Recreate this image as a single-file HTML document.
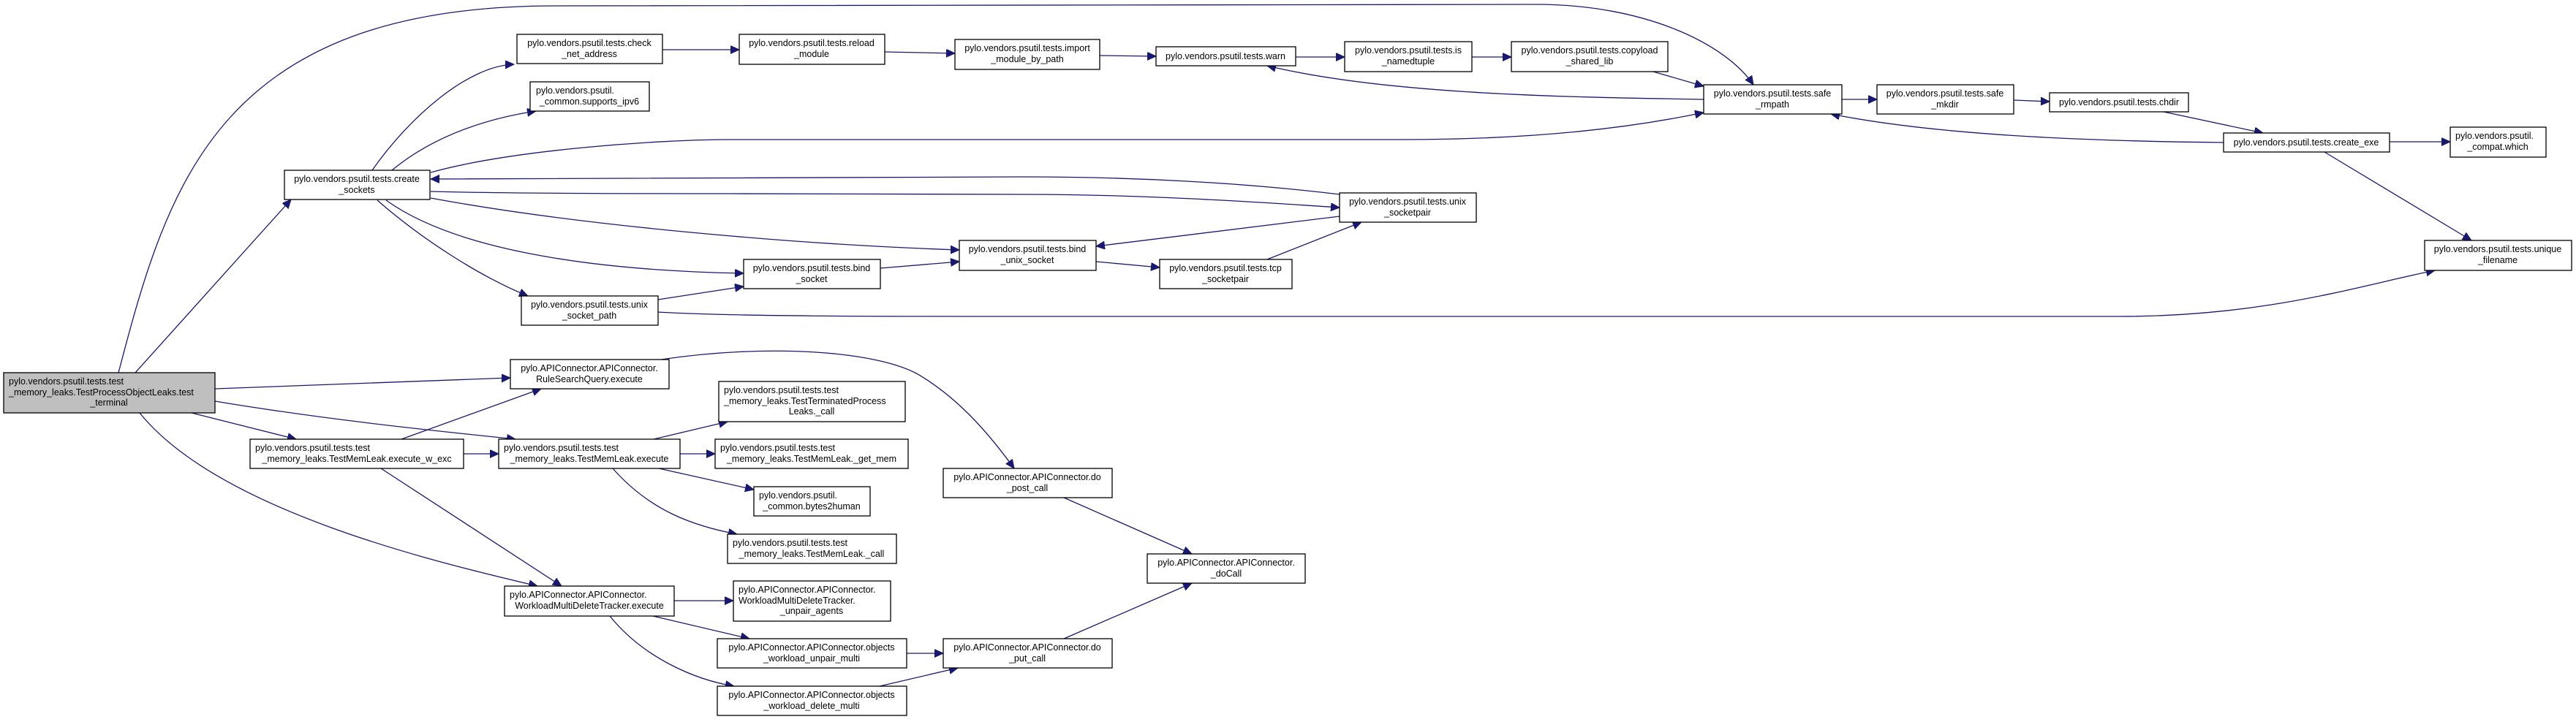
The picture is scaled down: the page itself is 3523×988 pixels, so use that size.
<!DOCTYPE html>
<html><head><meta charset="utf-8"><style>
html,body{margin:0;padding:0;background:#fff;}
svg{display:block;}
text{font-family:"Liberation Sans",sans-serif;font-size:12.5px;fill:#000;}
.e{fill:none;stroke:#191970;stroke-width:1.3;}
.n{fill:#fff;stroke:#000;stroke-width:1.3;}
.sh{fill:none;stroke:#666;stroke-width:1.3;}
</style></head><body>
<svg width="3523" height="988" viewBox="0 0 3523 988" xmlns="http://www.w3.org/2000/svg">
<defs><marker id="a" markerUnits="userSpaceOnUse" markerWidth="14" markerHeight="12" refX="12" refY="5.5" orient="auto"><path d="M0,0 L12,5.5 L0,11 Z" fill="#191970" stroke="#191970"/></marker></defs>

<g marker-end="url(#a)">
<!-- edges -->
<path class="e" d="M162,510 C230,250 300,8 760,8 L2100,6 C2250,6 2360,60 2398,116"/>
<path class="e" d="M185,510 L398,273"/>
<path class="e" d="M509,233 C560,160 640,90 703,88"/>
<path class="e" d="M536,233 C600,180 680,160 733,152"/>
<path class="e" d="M589,236 C700,205 900,191 1000,191 L1915,191 C2100,191 2230,175 2330,154"/>
<path class="e" d="M1832,266 C1700,250 1550,242 1400,242 L589,245"/>
<path class="e" d="M589,262 C700,265 900,265 1000,265 L1400,266 C1550,266 1700,275 1832,284"/>
<path class="e" d="M589,271 C800,310 1100,335 1312,342"/>
<path class="e" d="M528,274 C620,340 800,370 1017,374"/>
<path class="e" d="M516,274 C580,330 660,380 722,405"/>
<path class="e" d="M900,410 L1017,392"/>
<path class="e" d="M900,427 C1000,433 1200,433 1400,433 L2900,433 C3100,433 3230,390 3330,370"/>
<path class="e" d="M1204,367 L1312,358"/>
<path class="e" d="M1832,296 L1499,337"/>
<path class="e" d="M1499,358 L1586,366"/>
<path class="e" d="M1733,355 L1862,304"/>
<path class="e" d="M906,68 L1011,68"/>
<path class="e" d="M1210,71 L1306,73"/>
<path class="e" d="M1504,76 L1581,77"/>
<path class="e" d="M1772,78 L1839,78"/>
<path class="e" d="M2013,78 L2067,78"/>
<path class="e" d="M2261,98 L2330,118"/>
<path class="e" d="M2330,136 C2150,133 1900,130 1733,90"/>
<path class="e" d="M2519,136 L2567,136"/>
<path class="e" d="M2754,137 L2803,139"/>
<path class="e" d="M2959,153 L3095,182"/>
<path class="e" d="M3041,195 C2850,193 2650,185 2504,156"/>
<path class="e" d="M3268,194 L3351,194"/>
<path class="e" d="M3179,208 L3380,329"/>
<path class="e" d="M294,532 L698,517"/>
<path class="e" d="M294,549 C450,575 600,590 705,601"/>
<path class="e" d="M262,565 L405,601"/>
<path class="e" d="M191,565 C300,700 600,770 735,802"/>
<path class="e" d="M549,601 L740,532"/>
<path class="e" d="M634,621 L682,621"/>
<path class="e" d="M521,641 L768,802"/>
<path class="e" d="M904,492 C1050,470 1200,480 1257,513 C1310,545 1350,590 1387,641"/>
<path class="e" d="M894,601 L995,577"/>
<path class="e" d="M930,621 L978,621"/>
<path class="e" d="M901,641 L1031,670"/>
<path class="e" d="M838,641 C890,700 950,720 1008,731"/>
<path class="e" d="M922,822 L1003,822"/>
<path class="e" d="M893,843 L1025,874"/>
<path class="e" d="M834,843 C880,900 950,930 1004,939"/>
<path class="e" d="M1240,894 L1290,894"/>
<path class="e" d="M1203,939 L1310,914"/>
<path class="e" d="M1455,681 L1630,758"/>
<path class="e" d="M1455,874 L1630,798"/>
</g>

<!-- nodes -->
<g>
<rect x="5" y="510" width="289" height="55" fill="#bfbfbf" stroke="#000" stroke-width="1.3"/>
<text x="12" y="526">pylo.vendors.psutil.tests.test</text>
<text x="12" y="541">_memory_leaks.TestProcessObjectLeaks.test</text>
<text x="149" y="555" text-anchor="middle">_terminal</text>

<rect class="n" x="389" y="233" width="199" height="40"/>
<text x="488" y="249" text-anchor="middle">pylo.vendors.psutil.tests.create</text>
<text x="488" y="264" text-anchor="middle">_sockets</text>

<rect class="n" x="707" y="47" width="199" height="40"/>
<text x="806" y="63" text-anchor="middle">pylo.vendors.psutil.tests.check</text>
<text x="806" y="78" text-anchor="middle">_net_address</text>

<rect class="n" x="725" y="112" width="163" height="40"/>
<text x="733" y="128">pylo.vendors.psutil.</text>
<text x="806" y="143" text-anchor="middle">_common.supports_ipv6</text>

<rect class="n" x="1017" y="355" width="187" height="40"/>
<text x="1110" y="371" text-anchor="middle">pylo.vendors.psutil.tests.bind</text>
<text x="1110" y="386" text-anchor="middle">_socket</text>

<rect class="n" x="713" y="405" width="187" height="40"/>
<text x="806" y="421" text-anchor="middle">pylo.vendors.psutil.tests.unix</text>
<text x="806" y="436" text-anchor="middle">_socket_path</text>

<rect class="n" x="1011" y="47" width="199" height="41"/>
<text x="1110" y="63" text-anchor="middle">pylo.vendors.psutil.tests.reload</text>
<text x="1110" y="78" text-anchor="middle">_module</text>

<rect class="n" x="1306" y="54" width="198" height="41"/>
<text x="1405" y="70" text-anchor="middle">pylo.vendors.psutil.tests.import</text>
<text x="1405" y="85" text-anchor="middle">_module_by_path</text>

<rect class="n" x="1581" y="64" width="191" height="26"/>
<text x="1676" y="81" text-anchor="middle">pylo.vendors.psutil.tests.warn</text>

<rect class="n" x="1839" y="57" width="174" height="41"/>
<text x="1926" y="73" text-anchor="middle">pylo.vendors.psutil.tests.is</text>
<text x="1926" y="88" text-anchor="middle">_namedtuple</text>

<rect class="n" x="2067" y="57" width="214" height="41"/>
<text x="2174" y="73" text-anchor="middle">pylo.vendors.psutil.tests.copyload</text>
<text x="2174" y="88" text-anchor="middle">_shared_lib</text>

<rect class="n" x="2330" y="116" width="189" height="40"/>
<text x="2424" y="132" text-anchor="middle">pylo.vendors.psutil.tests.safe</text>
<text x="2424" y="147" text-anchor="middle">_rmpath</text>

<rect class="n" x="2567" y="116" width="187" height="40"/>
<text x="2660" y="132" text-anchor="middle">pylo.vendors.psutil.tests.safe</text>
<text x="2660" y="147" text-anchor="middle">_mkdir</text>

<rect class="n" x="2803" y="127" width="190" height="26"/>
<text x="2898" y="144" text-anchor="middle">pylo.vendors.psutil.tests.chdir</text>

<rect class="n" x="3041" y="182" width="227" height="26"/>
<text x="3154" y="199" text-anchor="middle">pylo.vendors.psutil.tests.create_exe</text>

<rect class="n" x="3351" y="174" width="131" height="41"/>
<text x="3358" y="190">pylo.vendors.psutil.</text>
<text x="3416" y="205" text-anchor="middle">_compat.which</text>

<rect class="n" x="3316" y="329" width="201" height="41"/>
<text x="3416" y="345" text-anchor="middle">pylo.vendors.psutil.tests.unique</text>
<text x="3416" y="360" text-anchor="middle">_filename</text>

<rect class="n" x="1832" y="264" width="187" height="40"/>
<text x="1925" y="280" text-anchor="middle">pylo.vendors.psutil.tests.unix</text>
<text x="1925" y="295" text-anchor="middle">_socketpair</text>

<rect class="n" x="1312" y="329" width="187" height="41"/>
<text x="1405" y="345" text-anchor="middle">pylo.vendors.psutil.tests.bind</text>
<text x="1405" y="360" text-anchor="middle">_unix_socket</text>

<rect class="n" x="1586" y="355" width="181" height="40"/>
<text x="1676" y="371" text-anchor="middle">pylo.vendors.psutil.tests.tcp</text>
<text x="1676" y="386" text-anchor="middle">_socketpair</text>

<rect class="n" x="698" y="492" width="217" height="40"/>
<text x="806" y="508" text-anchor="middle">pylo.APIConnector.APIConnector.</text>
<text x="806" y="523" text-anchor="middle">RuleSearchQuery.execute</text>

<rect class="n" x="342" y="601" width="292" height="40"/>
<text x="349" y="617">pylo.vendors.psutil.tests.test</text>
<text x="488" y="632" text-anchor="middle">_memory_leaks.TestMemLeak.execute_w_exc</text>

<rect class="n" x="682" y="601" width="248" height="40"/>
<text x="689" y="617">pylo.vendors.psutil.tests.test</text>
<text x="806" y="632" text-anchor="middle">_memory_leaks.TestMemLeak.execute</text>

<rect class="n" x="983" y="522" width="255" height="55"/>
<text x="990" y="538">pylo.vendors.psutil.tests.test</text>
<text x="990" y="553">_memory_leaks.TestTerminatedProcess</text>
<text x="1110" y="567" text-anchor="middle">Leaks._call</text>

<rect class="n" x="978" y="601" width="264" height="40"/>
<text x="985" y="617">pylo.vendors.psutil.tests.test</text>
<text x="1110" y="632" text-anchor="middle">_memory_leaks.TestMemLeak._get_mem</text>

<rect class="n" x="1031" y="666" width="159" height="40"/>
<text x="1038" y="682">pylo.vendors.psutil.</text>
<text x="1110" y="697" text-anchor="middle">_common.bytes2human</text>

<rect class="n" x="995" y="731" width="231" height="40"/>
<text x="1002" y="747">pylo.vendors.psutil.tests.test</text>
<text x="1110" y="762" text-anchor="middle">_memory_leaks.TestMemLeak._call</text>

<rect class="n" x="690" y="802" width="232" height="41"/>
<text x="697" y="818">pylo.APIConnector.APIConnector.</text>
<text x="806" y="833" text-anchor="middle">WorkloadMultiDeleteTracker.execute</text>

<rect class="n" x="1003" y="795" width="215" height="55"/>
<text x="1010" y="811">pylo.APIConnector.APIConnector.</text>
<text x="1010" y="826">WorkloadMultiDeleteTracker.</text>
<text x="1110" y="840" text-anchor="middle">_unpair_agents</text>

<rect class="n" x="981" y="874" width="259" height="40"/>
<text x="1110" y="890" text-anchor="middle">pylo.APIConnector.APIConnector.objects</text>
<text x="1110" y="905" text-anchor="middle">_workload_unpair_multi</text>

<rect class="n" x="981" y="939" width="259" height="40"/>
<text x="1110" y="955" text-anchor="middle">pylo.APIConnector.APIConnector.objects</text>
<text x="1110" y="970" text-anchor="middle">_workload_delete_multi</text>

<rect class="n" x="1290" y="641" width="231" height="40"/>
<text x="1405" y="657" text-anchor="middle">pylo.APIConnector.APIConnector.do</text>
<text x="1405" y="672" text-anchor="middle">_post_call</text>

<rect class="n" x="1569" y="758" width="216" height="40"/>
<text x="1677" y="774" text-anchor="middle">pylo.APIConnector.APIConnector.</text>
<text x="1677" y="789" text-anchor="middle">_doCall</text>

<rect class="n" x="1290" y="874" width="231" height="40"/>
<text x="1405" y="890" text-anchor="middle">pylo.APIConnector.APIConnector.do</text>
<text x="1405" y="905" text-anchor="middle">_put_call</text>
</g>
</svg>
</body></html>
